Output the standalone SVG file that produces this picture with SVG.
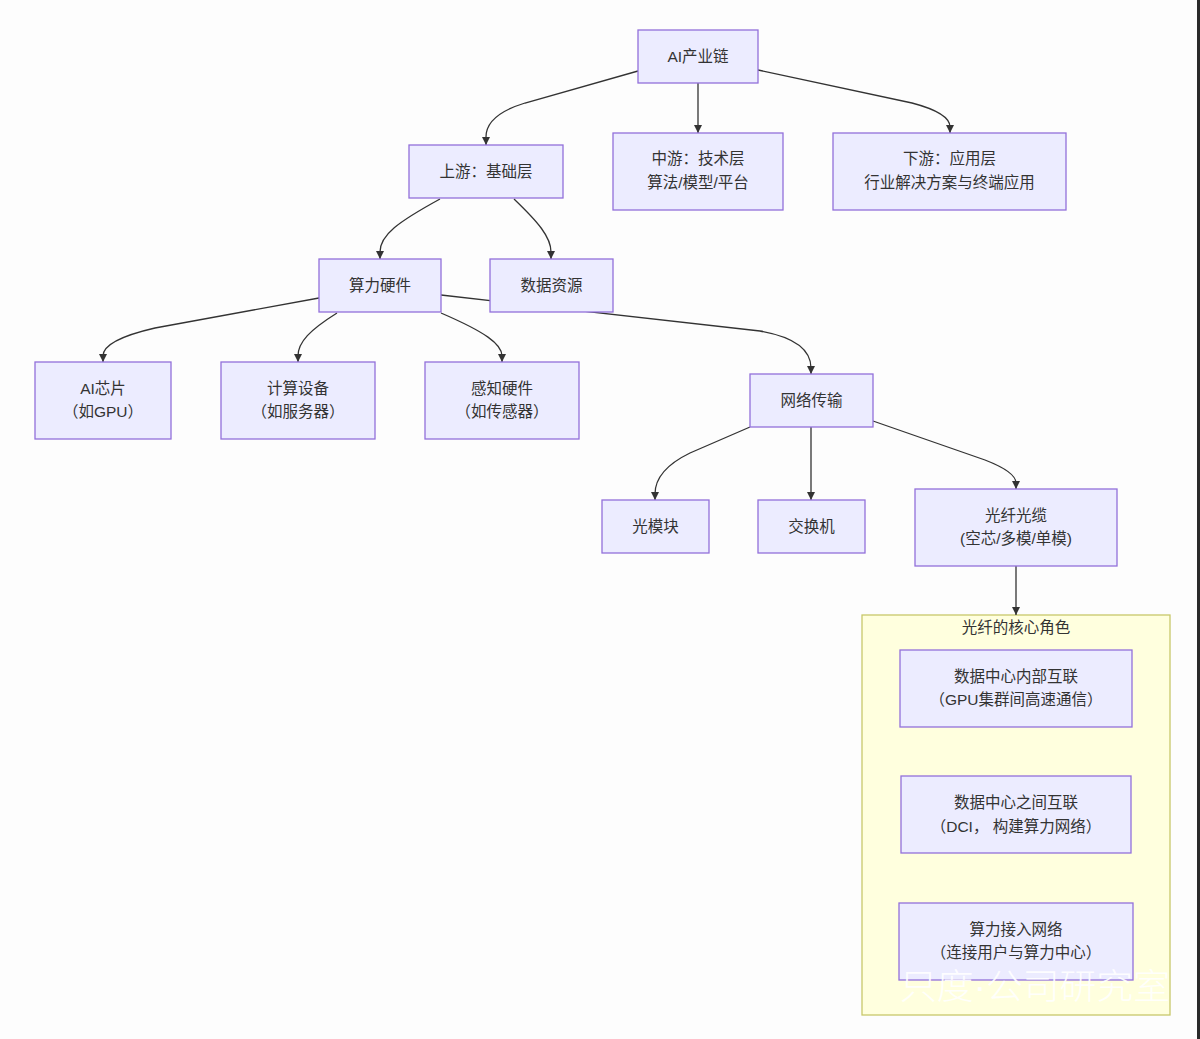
<svg xmlns="http://www.w3.org/2000/svg" width="1200" height="1039" viewBox="0 0 1200 1039">
<defs>
<style>
.node rect{fill:#ECECFF;stroke:#9370DB;stroke-width:1.3}
.node text,.cl text{font-family:"Liberation Sans","Noto Sans CJK SC",sans-serif;font-size:15.5px;fill:#333;text-anchor:middle;dominant-baseline:central}
.edges path{fill:none;stroke:#333;stroke-width:1.3}
.cl rect{fill:#ffffde;stroke:#c8c86a;stroke-width:1.3}
.wm{font-family:"Liberation Sans","Noto Sans CJK SC",sans-serif;font-size:35px;font-weight:300;fill:#fff;fill-opacity:0.92}
</style>
<marker id="ah" viewBox="0 0 10 10" refX="10" refY="5" markerWidth="8" markerHeight="8" orient="auto" markerUnits="userSpaceOnUse">
<path d="M0,0 L10,5 L0,10 z" fill="#333"/>
</marker>
</defs>
<rect x="0" y="0" width="1200" height="1039" fill="#fdfdfd"/>
<rect x="1197" y="0" width="3" height="1039" fill="#2a2a2a"/>

<g class="cl" id="cluster-fiber">
<rect x="862" y="615" width="308" height="400"/>
<text x="1016" y="627">光纤的核心角色</text>
</g>

<g class="edges" id="connectors">
<path d="M638,71 L525,103 Q486,115 486,137 L486,145" marker-end="url(#ah)"/>
<path d="M698,83 L698,133" marker-end="url(#ah)"/>
<path d="M758,70 L912,103 Q950,113 950,127 L950,133" marker-end="url(#ah)"/>
<path d="M440,199 C398,222 380,235 380,252 L380,259" marker-end="url(#ah)"/>
<path d="M514,199 C538,222 551,237 551,252 L551,259" marker-end="url(#ah)"/>
<path d="M319,298 L155,328 Q103,340 103,356 L103,362" marker-end="url(#ah)"/>
<path d="M337,313 C310,330 298,342 298,356 L298,362" marker-end="url(#ah)"/>
<path d="M441,313 C485,332 502,344 502,356 L502,362" marker-end="url(#ah)"/>
<path d="M441,295 L760,331 Q811,340 811,368 L811,374" marker-end="url(#ah)"/>
<path d="M750,427 L690,453 Q655,470 655,494 L655,500" marker-end="url(#ah)"/>
<path d="M811,427 L811,500" marker-end="url(#ah)"/>
<path d="M873,421 L985,460 Q1016,472 1016,483 L1016,489" marker-end="url(#ah)"/>
<path d="M1016,566 L1016,615" marker-end="url(#ah)"/>
</g>

<g class="node" id="n-ai"><rect x="638" y="30" width="120" height="53"/><text x="698" y="56.5">AI产业链</text></g>
<g class="node" id="n-up"><rect x="409" y="145" width="154" height="53"/><text x="486" y="171.5">上游：基础层</text></g>
<g class="node" id="n-mid"><rect x="613" y="133" width="170" height="77"/><text x="698" y="158">中游：技术层</text><text x="698" y="182">算法/模型/平台</text></g>
<g class="node" id="n-down"><rect x="833" y="133" width="233" height="77"/><text x="949.5" y="158">下游：应用层</text><text x="949.5" y="182">行业解决方案与终端应用</text></g>
<g class="node" id="n-hw"><rect x="319" y="259" width="122" height="53"/><text x="380" y="285.5">算力硬件</text></g>
<g class="node" id="n-data"><rect x="490" y="259" width="123" height="53"/><text x="551.5" y="285.5">数据资源</text></g>
<g class="node" id="n-chip"><rect x="35" y="362" width="136" height="77"/><text x="103" y="388">AI芯片</text><text x="103" y="411">（如GPU）</text></g>
<g class="node" id="n-dev"><rect x="221" y="362" width="154" height="77"/><text x="298" y="388">计算设备</text><text x="298" y="411">（如服务器）</text></g>
<g class="node" id="n-sense"><rect x="425" y="362" width="154" height="77"/><text x="502" y="388">感知硬件</text><text x="502" y="411">（如传感器）</text></g>
<g class="node" id="n-net"><rect x="750" y="374" width="123" height="53"/><text x="811.5" y="400.5">网络传输</text></g>
<g class="node" id="n-opt"><rect x="602" y="500" width="107" height="53"/><text x="655.5" y="526.5">光模块</text></g>
<g class="node" id="n-sw"><rect x="758" y="500" width="107" height="53"/><text x="811.5" y="526.5">交换机</text></g>
<g class="node" id="n-fiber"><rect x="915" y="489" width="202" height="77"/><text x="1016" y="515">光纤光缆</text><text x="1016" y="538">(空芯/多模/单模)</text></g>
<g class="node" id="n-in"><rect x="900" y="650" width="232" height="77"/><text x="1016" y="676">数据中心内部互联</text><text x="1016" y="699">（GPU集群间高速通信）</text></g>
<g class="node" id="n-dci"><rect x="901" y="776" width="230" height="77"/><text x="1016" y="802">数据中心之间互联</text><text x="1016" y="826">（DCI， 构建算力网络）</text></g>
<g class="node" id="n-acc"><rect x="899" y="903" width="234" height="77"/><text x="1016" y="929">算力接入网络</text><text x="1016" y="952">（连接用户与算力中心）</text></g>

<text class="wm" x="900" y="999" textLength="270" lengthAdjust="spacingAndGlyphs">只度·公司研究室</text>
</svg>
